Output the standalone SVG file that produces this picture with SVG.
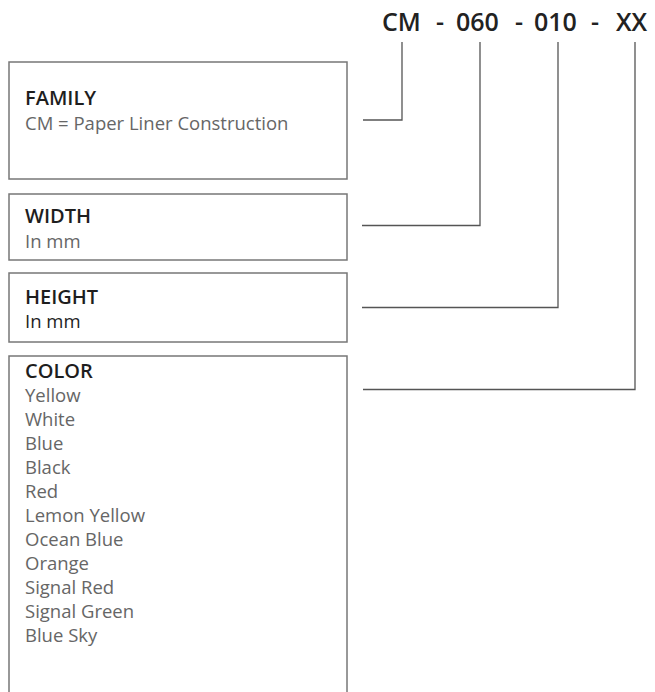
<svg xmlns="http://www.w3.org/2000/svg" width="655" height="692" viewBox="0 0 655 692">
<style>
.box{fill:#fff;stroke:#777;stroke-width:1.5}
.h{font-family:"Open Sans","Liberation Sans",sans-serif;font-weight:600;font-size:20px;fill:#1e1e1e}
.s{font-family:"Open Sans","Liberation Sans",sans-serif;font-size:18.5px;fill:#666}
.code{font-family:"Open Sans","Liberation Sans",sans-serif;font-weight:600;font-size:25px;fill:#222}
.c{fill:none;stroke:#555;stroke-width:1.3}
</style>
<rect width="655" height="692" fill="#fff"/>
<g id="code">
<text class="code" x="382" y="31">CM</text>
<text class="code" x="436" y="31">-</text>
<text class="code" x="456" y="31">060</text>
<text class="code" x="515" y="31">-</text>
<text class="code" x="534" y="31">010</text>
<text class="code" x="591" y="31">-</text>
<text class="code" x="616" y="31">XX</text>
</g>
<g id="family">
<rect class="box" x="9" y="62" width="338" height="117"/>
<text class="h" x="25" y="105">FAMILY</text>
<text class="s" x="25" y="130">CM = Paper Liner Construction</text>
</g>
<g id="width">
<rect class="box" x="9" y="194" width="338" height="66"/>
<text class="h" x="25" y="223">WIDTH</text>
<text class="s" x="25" y="248">In mm</text>
</g>
<g id="height">
<rect class="box" x="9" y="273" width="338" height="69"/>
<text class="h" x="25" y="304">HEIGHT</text>
<text class="s" x="25" y="328" style="fill:#1e1e1e">In mm</text>
</g>
<g id="color">
<rect class="box" x="9" y="356" width="338" height="360"/>
<text class="h" x="25" y="378">COLOR</text>
<text class="s" x="25" y="402">Yellow</text>
<text class="s" x="25" y="426">White</text>
<text class="s" x="25" y="450">Blue</text>
<text class="s" x="25" y="474">Black</text>
<text class="s" x="25" y="498">Red</text>
<text class="s" x="25" y="522">Lemon Yellow</text>
<text class="s" x="25" y="546">Ocean Blue</text>
<text class="s" x="25" y="570">Orange</text>
<text class="s" x="25" y="594">Signal Red</text>
<text class="s" x="25" y="618">Signal Green</text>
<text class="s" x="25" y="642">Blue Sky</text>
</g>
<g id="connectors">
<polyline class="c" points="402,42 402,120 363,120"/>
<polyline class="c" points="480,42 480,225.5 362,225.5"/>
<polyline class="c" points="558,42 558,307.5 362,307.5"/>
<polyline class="c" points="635,42 635,389.5 363,389.5"/>
</g>
</svg>
